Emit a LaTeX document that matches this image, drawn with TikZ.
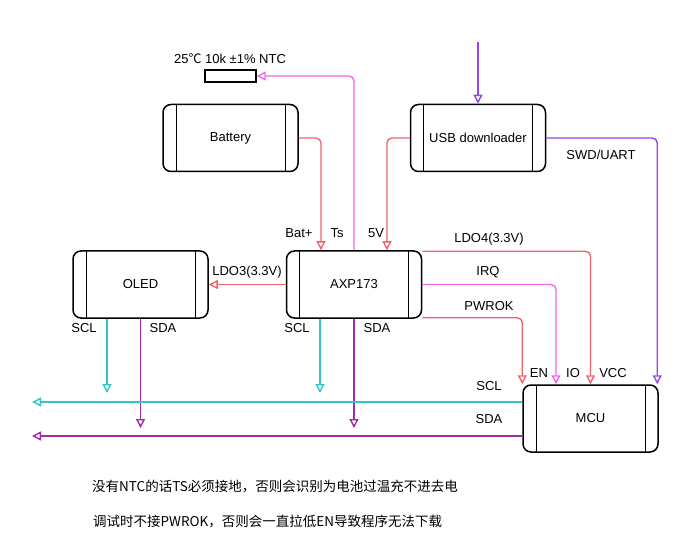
\documentclass[tikz,border=0pt]{standalone}
\usepackage{fontspec}
\setmainfont{Liberation Sans}
\newfontfamily\cjk{Noto Sans CJK SC}
\usetikzlibrary{arrows.meta}

\definecolor{pwrred}{HTML}{F0646E}
\definecolor{irqpink}{HTML}{EE66EE}
\definecolor{sclcyan}{HTML}{33C6C9}
\definecolor{sdapurple}{HTML}{A428AC}
\definecolor{usbviolet}{HTML}{9346EE}

\begin{document}
\begin{tikzpicture}[x=1pt, y=-1pt, font=\fontsize{13}{15}\selectfont,
    box/.style={draw, line width=1.5pt, rounded corners=8pt, minimum width=135pt, minimum height=67pt,
        path picture={\draw[line width=0.9pt]
            ([xshift=13pt]path picture bounding box.south west) -- ([xshift=13pt]path picture bounding box.north west)
            ([xshift=-13pt]path picture bounding box.south east) -- ([xshift=-13pt]path picture bounding box.north east);}},
    wire/.style={line width=1.4pt, rounded corners=5pt, -{Triangle[open,length=9pt,width=9pt]}},
    lbl/.style={inner sep=0pt}]
    \useasboundingbox (0,0) rectangle (693,545);

    % blocks
    \node[box] (bat) at (230.5,138) {Battery};
    \node[box] (usb) at (478,138) {USB downloader};
    \node[box] (oled) at (140.5,284.5) {OLED};
    \node[box] (axp) at (354,284.5) {AXP173};
    \node[box] (mcu) at (590.5,418.5) {MCU};
    \node[draw, line width=1.3pt, minimum width=51pt, minimum height=12pt, inner sep=0pt] (ntc) at (230.5,76) {};
    \node[lbl] (ntclbl) at (230,59) {25{\cjk ℃} 10k ±1\% NTC};

    % free ends
    \coordinate (usbin) at (478,42);
    \coordinate (sclend) at (32,402);
    \coordinate (sdaend) at (32,436);
    \coordinate (osclend) at (107,393);
    \coordinate (osdaend) at (140.5,428);
    \coordinate (asclend) at (320,393);
    \coordinate (asdaend) at (354,428);

    % power and signals
    \draw[wire, usbviolet] (usbin) -- (usb.north);
    \draw[wire, pwrred] (bat.east) -| ([xshift=-33pt]axp.north);
    \draw[wire, pwrred] (usb.west) -| ([xshift=33pt]axp.north);
    \draw[wire, irqpink] (axp.north) |- (ntc.east);
    \draw[wire, usbviolet] (usb.east) -| ([xshift=-1.5pt]mcu.north east);
    \draw[wire, pwrred] (axp.west) -- (oled.east);
    \draw[wire, pwrred] ([yshift=-1pt]axp.north east) -| (mcu.north);
    \draw[wire, irqpink] (axp.east) -| ([xshift=-34.5pt]mcu.north);
    \draw[wire, pwrred] ([yshift=1pt]axp.south east) -| (mcu.north west);

    % i2c
    \draw[wire, sclcyan] (oled.south -| osclend) -- (osclend);
    \draw[wire, sdapurple] (oled.south -| osdaend) -- (osdaend);
    \draw[wire, sclcyan] (axp.south -| asclend) -- (asclend);
    \draw[wire, sdapurple] (axp.south -| asdaend) -- (asdaend);
    \draw[wire, sclcyan] (mcu.west |- sclend) -- (sclend);
    \draw[wire, sdapurple] (mcu.west |- sdaend) -- (sdaend);

    % labels
    \node[lbl] (batp) at (299,233) {Bat+};
    \node[lbl] (ts) at (337,233) {Ts};
    \node[lbl] (fivev) at (376,233) {5V};
    \node[lbl] (swd) at (601,155) {SWD/UART};
    \node[lbl] (ldo3) at (247,272) {LDO3(3.3V)};
    \node[lbl] (ldo4) at (489,239) {LDO4(3.3V)};
    \node[lbl] (irq) at (488,272) {IRQ};
    \node[lbl] (pwrok) at (489,306) {PWROK};
    \node[lbl] (oscl) at (84,328) {SCL};
    \node[lbl] (osda) at (163,328) {SDA};
    \node[lbl] (ascl) at (297,328) {SCL};
    \node[lbl] (asda) at (377,328) {SDA};
    \node[lbl] (en) at (539,373) {EN};
    \node[lbl] (io) at (573,373) {IO};
    \node[lbl] (vcc) at (613,373) {VCC};
    \node[lbl] (busscl) at (489,386) {SCL};
    \node[lbl] (bussda) at (489,419) {SDA};

    % notes
    \node[lbl, anchor=west, font=\cjk\fontsize{13.5}{16}\selectfont] (note1) at (92,487) {没有NTC的话TS必须接地，否则会识别为电池过温充不进去电};
    \node[lbl, anchor=west, font=\cjk\fontsize{13.5}{16}\selectfont] (note2) at (93,522) {调试时不接PWROK，否则会一直拉低EN导致程序无法下载};
\end{tikzpicture}
\end{document}
